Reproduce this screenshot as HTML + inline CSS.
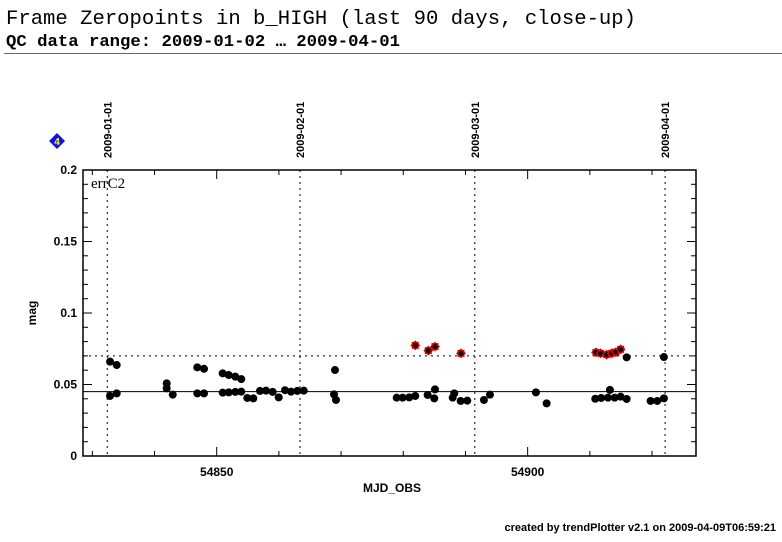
<!DOCTYPE html>
<html><head><meta charset="utf-8"><style>
body{margin:0;background:#fff;width:782px;height:542px;overflow:hidden}
svg{display:block}
</style></head><body>
<svg id="chart" width="782" height="542" xmlns="http://www.w3.org/2000/svg" font-family="Liberation Sans, sans-serif">
<text x="6" y="24" font-family="Liberation Mono, monospace" font-size="20.6" textLength="630" lengthAdjust="spacingAndGlyphs">Frame Zeropoints in b_HIGH (last 90 days, close-up)</text>
<text x="6" y="46" font-family="Liberation Mono, monospace" font-size="16.5" font-weight="bold" textLength="394" lengthAdjust="spacingAndGlyphs">QC data range: 2009-01-02 … 2009-04-01</text>
<line x1="4" y1="53.5" x2="782" y2="53.5" stroke="#666" stroke-width="1"/>
<g><polygon points="57,133 65,141 57,149 49,141" fill="#1010ff"/><text x="57" y="145" font-size="10" font-weight="bold" fill="#ff0" text-anchor="middle">4</text></g>
<text transform="translate(36,313) rotate(-90)" font-size="12" font-weight="bold" text-anchor="middle">mag</text>
<text x="392" y="492" font-size="12" font-weight="bold" text-anchor="middle">MJD_OBS</text>
<text x="91" y="188" font-family="Liberation Serif, serif" font-size="15">errC2</text>
<text x="776" y="531" font-size="11" font-weight="bold" text-anchor="end">created by trendPlotter v2.1 on 2009-04-09T06:59:21</text>
<g id="g"></g>
</svg>
<script>
const xTicksMajor=[54850,54900];
const xTicksMinor=[54830,54840,54850,54860,54870,54880,54890,54900,54910,54920];
const yTicks=[0,0.05,0.1,0.15,0.2];
const yTickLabels=["0","0.05","0.1","0.15","0.2"];
const dateMjd=[54832.4,54863.4,54891.5,54922.1];
const dateLabels=["2009-01-01","2009-02-01","2009-03-01","2009-04-01"];
const refSolid=0.045, refDotted=0.07;
const okMjd=[54832.85,54833.92,54832.85,54833.92,54841.96,54841.96,54842.93,54846.88,54847.96,54846.88,54847.96,54850.96,54851.93,54852.99,54853.95,54850.96,54851.93,54852.99,54853.95,54854.92,54855.88,54856.96,54857.93,54859.0,54859.97,54860.98,54861.95,54862.96,54864.0,54869.02,54868.86,54869.18,54878.94,54879.9,54880.96,54881.93,54883.92,54885.1,54884.98,54887.94,54888.2,54889.23,54890.29,54892.97,54893.94,54901.33,54903.05,54910.87,54911.83,54912.91,54913.23,54913.99,54914.95,54915.92,54915.92,54919.77,54920.84,54921.91,54921.91];
const okVal=[0.066,0.0636,0.042,0.0438,0.0508,0.0473,0.0429,0.062,0.061,0.0438,0.0438,0.0578,0.0566,0.0555,0.0538,0.0443,0.0445,0.0448,0.045,0.0406,0.0403,0.0455,0.0457,0.0448,0.041,0.046,0.045,0.0455,0.0457,0.0601,0.0431,0.0392,0.0408,0.0408,0.041,0.042,0.0427,0.0466,0.0403,0.0408,0.0438,0.0385,0.0387,0.0392,0.0429,0.0445,0.0368,0.04,0.0406,0.0408,0.0462,0.0408,0.0415,0.0399,0.069,0.0385,0.0385,0.0403,0.0692];
const badMjd=[54881.93,54884.02,54885.1,54889.28,54910.98,54911.74,54912.7,54913.5,54914.2,54914.95];
const badVal=[0.0774,0.0737,0.0765,0.0718,0.0725,0.0718,0.0709,0.0718,0.0727,0.0746];

const L=83,R=696,T=170,B=456,X0=54828.5,X1=54927.07,Y0=0,Y1=0.2;
const sx=v=>L+(v-X0)/(X1-X0)*(R-L);
const sy=v=>B-(v-Y0)/(Y1-Y0)*(B-T);
const g=document.getElementById('g');
const NS='http://www.w3.org/2000/svg';
function mk(tag,attrs,parent){const e=document.createElementNS(NS,tag);for(const k in attrs)e.setAttribute(k,attrs[k]);(parent||g).appendChild(e);return e;}

dateMjd.forEach((m,i)=>{
  const x=sx(m);
  const l=mk('line',{x1:x,y1:T,x2:x,y2:B,stroke:'#000','stroke-width':1,'stroke-dasharray':'2,4'});
  
  
  const t=mk('text',{transform:`translate(${x+4},158) rotate(-90)`,'font-size':11,'font-weight':'bold'});
  t.textContent=dateLabels[i];
  
  
});
const rs=mk('line',{x1:L,y1:sy(refSolid),x2:R,y2:sy(refSolid),stroke:'#000','stroke-width':1});


const rd=mk('line',{x1:L,y1:sy(refDotted),x2:R,y2:sy(refDotted),stroke:'#000','stroke-width':1,'stroke-dasharray':'2,4'});



const frame=mk('rect',{x:L,y:T,width:R-L,height:B-T,fill:'none',stroke:'#000','stroke-width':1.5});



for(let v=0;v<=0.2001;v+=0.01){
  const y=sy(v);const major=Math.abs(v*20-Math.round(v*20))<1e-6;const len=major?9:5;
  const a=mk('line',{x1:L,y1:y,x2:L+len,y2:y,stroke:'#000','stroke-width':1});
  
  
  const b=mk('line',{x1:R,y1:y,x2:R-len,y2:y,stroke:'#000','stroke-width':1});
  
  
}
yTicks.forEach((v,i)=>{
  const t=mk('text',{x:L-6,y:sy(v)+4,'font-size':12,'font-weight':'bold','text-anchor':'end'});
  t.textContent=yTickLabels[i];
  
  
});
xTicksMinor.forEach(v=>{
  const x=sx(v);const len=xTicksMajor.includes(v)?9:5;
  const a=mk('line',{x1:x,y1:B,x2:x,y2:B-len,stroke:'#000','stroke-width':1});
  
  
  const b=mk('line',{x1:x,y1:T,x2:x,y2:T+len,stroke:'#000','stroke-width':1});
  
  
});
xTicksMajor.forEach(v=>{
  const t=mk('text',{x:sx(v),y:476,'font-size':12,'font-weight':'bold','text-anchor':'middle'});
  t.textContent=String(v);
  
  
});
okMjd.forEach((m,i)=>{
  const c=mk('circle',{cx:sx(m),cy:sy(okVal[i]),r:4,fill:'#000'});
  
  
});
badMjd.forEach((m,i)=>{
  const x=sx(m),y=sy(badVal[i]);
  const p=mk('g',{});
  
  
  mk('rect',{x:x-3.5,y:y-3.5,width:7,height:7,fill:'#e00000',transform:`rotate(45 ${x} ${y})`},p);
  mk('rect',{x:x-3.5,y:y-3.5,width:7,height:7,fill:'#e00000'},p);
  mk('circle',{cx:x,cy:y,r:2.5,fill:'#000'},p);
});
</script>
</body></html>
